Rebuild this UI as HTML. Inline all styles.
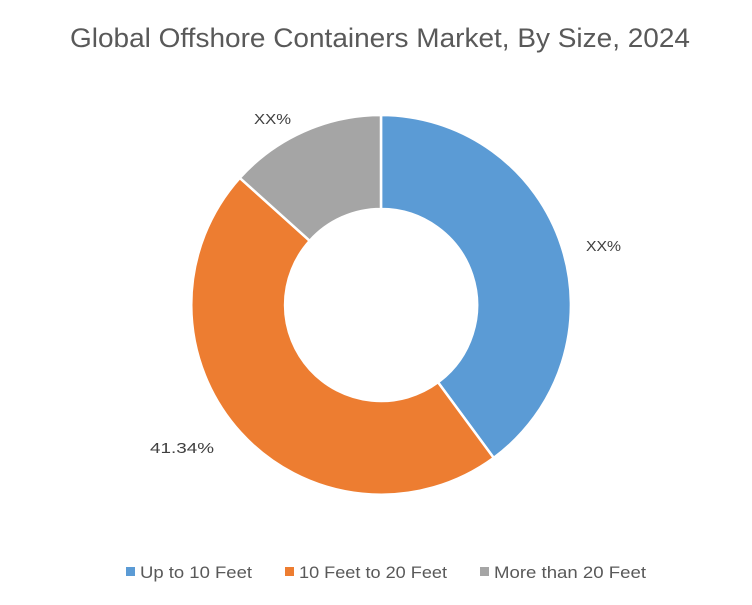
<!DOCTYPE html>
<html><head><meta charset="utf-8"><style>
html,body{margin:0;padding:0;background:#fff;}
body{width:752px;height:600px;overflow:hidden;font-family:"Liberation Sans",sans-serif;}
</style></head><body>
<svg width="752" height="600" xmlns="http://www.w3.org/2000/svg" font-family="Liberation Sans, sans-serif">
<rect width="752" height="600" fill="#fff"/>
<text x="70" y="47" font-size="27" fill="#595959" textLength="620" lengthAdjust="spacingAndGlyphs">Global Offshore Containers Market, By Size, 2024</text>
<g stroke="#fff" stroke-width="2.5" stroke-linejoin="round">
<path d="M381,115 A190 190 0 0 1 493.7,457.9 L438,382.3 A96 96 0 0 0 381,209 Z" fill="#5B9BD5"/>
<path d="M493.7,457.9 A190 190 0 0 1 239.8,177.9 L309.7,240.8 A96 96 0 0 0 438,382.3 Z" fill="#ED7D31"/>
<path d="M239.8,177.9 A190 190 0 0 1 381,115 L381,209 A96 96 0 0 0 309.7,240.8 Z" fill="#A5A5A5"/>
</g>
<g font-size="15" fill="#404040">
<text x="586" y="251" textLength="35" lengthAdjust="spacingAndGlyphs">XX%</text>
<text x="150" y="453" textLength="64" lengthAdjust="spacingAndGlyphs">41.34%</text>
<text x="254" y="124" textLength="37" lengthAdjust="spacingAndGlyphs">XX%</text>
</g>
<g font-size="17" fill="#595959">
<rect x="126" y="567" width="9" height="9" fill="#5B9BD5"/>
<text x="140" y="578" textLength="112" lengthAdjust="spacingAndGlyphs">Up to 10 Feet</text>
<rect x="285" y="567" width="9" height="9" fill="#ED7D31"/>
<text x="299" y="578" textLength="148" lengthAdjust="spacingAndGlyphs">10 Feet to 20 Feet</text>
<rect x="480" y="567" width="9" height="9" fill="#A5A5A5"/>
<text x="494" y="578" textLength="152" lengthAdjust="spacingAndGlyphs">More than 20 Feet</text>
</g>
</svg>
</body></html>
